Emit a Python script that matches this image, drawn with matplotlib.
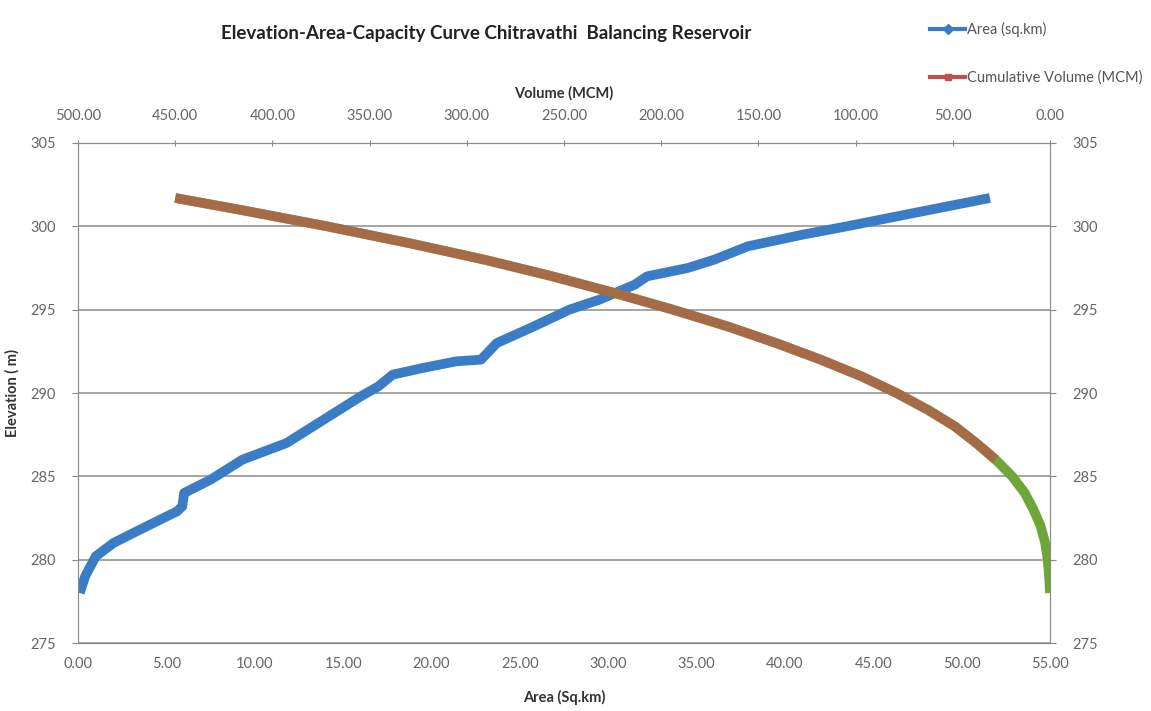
import matplotlib.pyplot as plt
from matplotlib.lines import Line2D

plt.rcParams["font.family"] = ["Lato", "DejaVu Sans"]

# elevation (m) vs water spread area (sq.km)
area_elev = [278.0, 279.0, 280.2, 281.0, 281.8, 282.9, 283.2, 284.0, 284.8, 286.0,
             287.0, 288.0, 289.0, 289.8, 290.4, 291.1, 291.5, 291.9, 292.0, 293.0,
             294.0, 295.0, 295.6, 296.5, 297.0, 297.5, 298.0, 298.8, 299.5, 300.0,
             300.8, 301.7]
area_sqkm = [0.1, 0.4, 1.0, 2.0, 3.5, 5.6, 5.9, 6.0, 7.5, 9.3,
             11.8, 13.3, 14.8, 16.0, 17.0, 17.8, 19.5, 21.4, 22.8, 23.7,
             25.8, 27.8, 29.5, 31.5, 32.2, 34.5, 36.0, 37.9, 41.0, 43.5,
             47.3, 51.6]

# elevation (m) vs cumulative storage (MCM)
vol_elev = [278.0, 279.0, 280.0, 281.0, 282.0, 283.0, 284.0, 285.0, 286.0, 287.0,
            288.0, 289.0, 290.0, 291.0, 292.0, 293.0, 294.0, 295.0, 296.0, 297.0,
            298.0, 299.0, 300.0, 301.0, 301.7]
vol_mcm = [0.0, 0.5, 1.2, 2.5, 4.8, 8.5, 13.0, 19.5, 28.0, 38.0,
           49.0, 63.0, 79.0, 97.0, 118.0, 141.0, 166.0, 194.0, 224.0, 256.0,
           291.0, 330.0, 372.0, 417.0, 450.0]

area_ticks = [0, 5, 10, 15, 20, 25, 30, 35, 40, 45, 50, 55]
vol_ticks = [500, 450, 400, 350, 300, 250, 200, 150, 100, 50, 0]
elev_ticks = [275, 280, 285, 290, 295, 300, 305]

BLUE = "#3b7cc6"
RED = "#c0504d"
GREEN = "#6ea63a"
TICK_COLOR = "#666666"

fig = plt.figure(figsize=(11.51, 7.11), dpi=100)
ax = fig.add_axes([0.0678, 0.0956, 0.8445, 0.7033])

ax.plot(area_sqkm, area_elev, color=BLUE, lw=7, solid_capstyle="butt",
        solid_joinstyle="round", zorder=3)
ax.set_xlim(0, 55)
ax.set_ylim(275, 305)
ax.set_xticks(area_ticks)
ax.set_xticklabels([f"{v:.2f}" for v in area_ticks])
ax.set_yticks(elev_ticks)
ax.yaxis.grid(True, color="#8c8c8c", lw=1.1)
ax.set_axisbelow(True)
ax.tick_params(axis="both", colors="#888888", labelcolor=TICK_COLOR, labelsize=10.5,
               length=4, direction="out")
ax.tick_params(axis="x", length=0, pad=10)
ax.tick_params(axis="y", right=True, labelright=True, pad=12)
for side in ax.spines:
    ax.spines[side].set_color("#8c8c8c")
ax.spines["left"].set_color("#c8c8c8")
ax.set_xlabel("Area (Sq.km)", fontsize=10.5, fontweight="bold", color="#333333", labelpad=14)
ax.set_ylabel("Elevation ( m)", fontsize=10.5, fontweight="bold", color="#333333", labelpad=8)

# volume curve on a reversed top axis
ax2 = ax.twiny()
ax2.plot(vol_mcm, vol_elev, color=GREEN, lw=7, solid_capstyle="butt", zorder=3)
upper = [i for i, e in enumerate(vol_elev) if e >= 286.0]
ax2.plot([vol_mcm[i] for i in upper], [vol_elev[i] for i in upper],
         color=RED, lw=7, alpha=0.68, solid_capstyle="butt", zorder=4)
ax2.set_xlim(500, 0)
ax2.set_xticks(vol_ticks)
ax2.set_xticklabels([f"{v:.2f}" for v in vol_ticks])
ax2.tick_params(axis="x", colors="#888888", labelcolor=TICK_COLOR, labelsize=10.5,
                length=5, direction="inout", pad=12)
for side in ax2.spines:
    ax2.spines[side].set_color("#8c8c8c")
ax2.set_xlabel("Volume (MCM)", fontsize=10.5, fontweight="bold", color="#333333", labelpad=8)

fig.text(0.422, 0.953, "Elevation-Area-Capacity Curve Chitravathi  Balancing Reservoir",
         ha="center", va="center", fontsize=13.5, fontweight="bold", color="#222222")

handles = [
    Line2D([], [], color=BLUE, lw=3, marker="D", markersize=5),
    Line2D([], [], color=RED, lw=3, marker="s", markersize=5),
]
fig.legend(handles, ["Area (sq.km)", "Cumulative Volume (MCM)"], loc="upper left",
           bbox_to_anchor=(0.797, 0.988), frameon=False, fontsize=10.5,
           labelcolor="#555555", handlelength=2.4, handletextpad=0.1,
           labelspacing=2.3)

fig.savefig("out.png", dpi=100)
